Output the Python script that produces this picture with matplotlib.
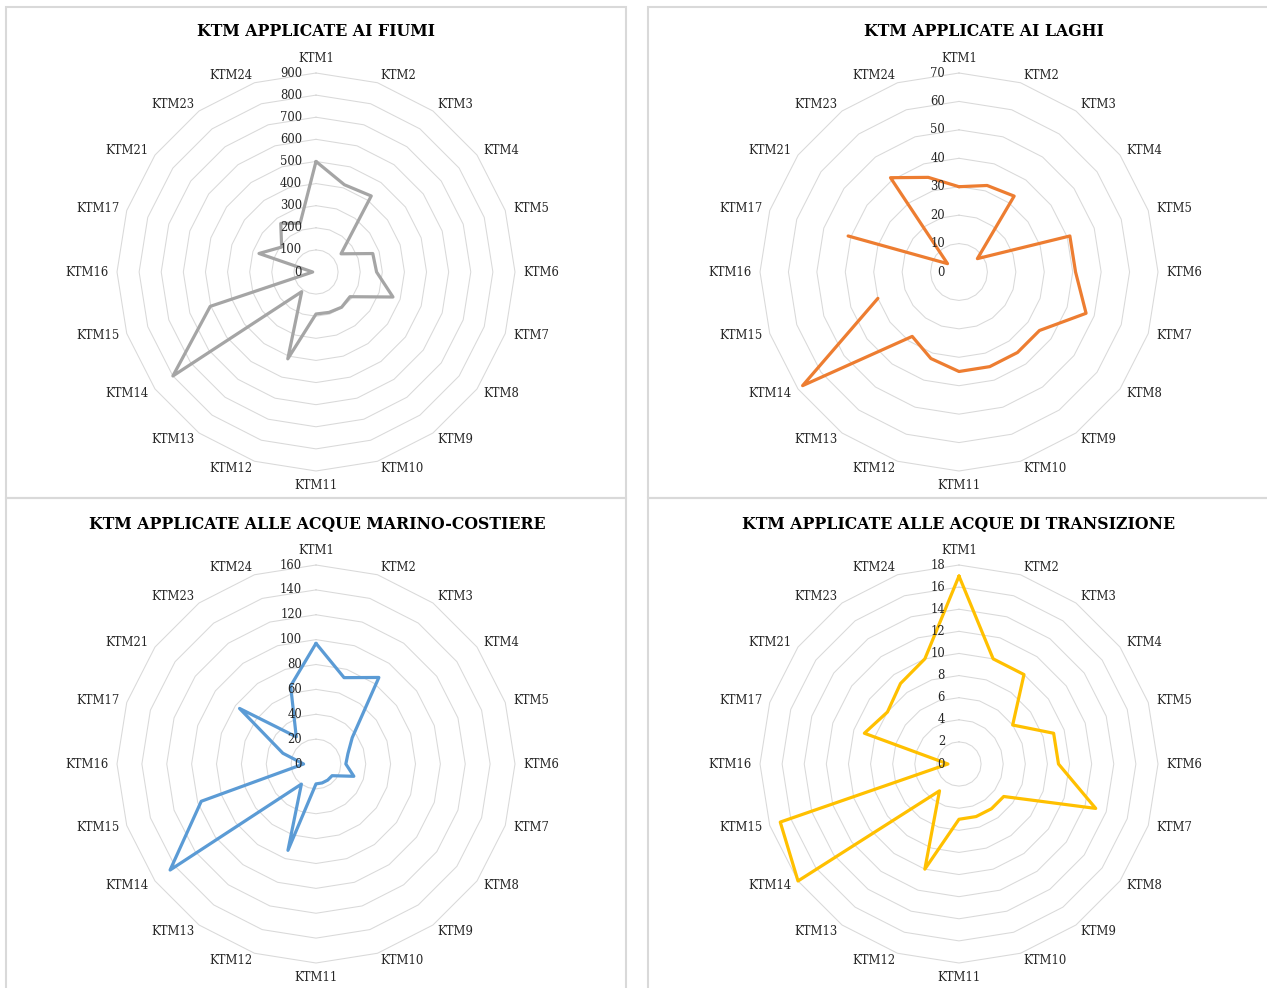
import numpy as np
import matplotlib
matplotlib.use("Agg")
import matplotlib.pyplot as plt
from matplotlib.patches import Rectangle

W, H = 1267, 988

categories = ["KTM1", "KTM2", "KTM3", "KTM4", "KTM5", "KTM6", "KTM7", "KTM8",
              "KTM9", "KTM10", "KTM11", "KTM12", "KTM13", "KTM14", "KTM15",
              "KTM16", "KTM17", "KTM21", "KTM23", "KTM24"]

fiumi = [500, 415, 425, 140, 270, 274, 366, 190, 197, 192, 190, 413, 110, 800,
         503, 15, 271, 192, 271, 232]
laghi = [30, 32, 33, 8, 41, 41, 47, 35, 35, 35, 35, 32, 28, 68, 30, np.nan,
         41, 5, 41, 35]
marino = [97, 73, 86, 36, 27, 24, 32, 16, 16, 16, 16, 73, 20, 145, 97, 10,
          28, 76, 27, 66]
transizione = [17, 10, 10, 6, 9, 9, 13, 5, 5, 5, 5, 10, 3, 18, 17, 1, 9, 8,
               9, 10]

titles = ["KTM APPLICATE AI FIUMI", "KTM APPLICATE AI LAGHI",
          "KTM APPLICATE ALLE ACQUE MARINO-COSTIERE",
          "KTM APPLICATE ALLE ACQUE DI TRANSIZIONE"]

GRID = "#d9d9d9"
TXT = "#262626"
SERIF = "DejaVu Serif"

fig = plt.figure(figsize=(W / 100, H / 100), dpi=100)
fig.patch.set_facecolor("white")


def px_rect(x0, y0, x1, y1):
    # pixel box (top-left origin) -> figure fraction rect
    return [x0 / W, (H - y1) / H, (x1 - x0) / W, (y1 - y0) / H]


# panel frames
for x0, y0, x1, y1 in [(6, 7, 626, 498), (648, 7, 1300, 498),
                       (6, 498, 626, 1010), (648, 498, 1300, 1010)]:
    l, b, w, h = px_rect(x0, y0, x1, y1)
    fig.add_artist(Rectangle((l, b), w, h, transform=fig.transFigure,
                             fill=False, ec=GRID, lw=1.5))


def radar(cx, cy, values, rmax, step, color):
    R = 199
    ax = fig.add_axes(px_rect(cx - R, cy - R, cx + R, cy + R), projection="polar")
    ax.set_theta_offset(np.pi / 2)
    ax.set_theta_direction(-1)
    ax.set_ylim(0, rmax)
    ax.grid(False)
    ax.set_xticks([])
    ax.set_yticks([])
    ax.spines["polar"].set_visible(False)
    ax.patch.set_alpha(0)

    n = len(categories)
    ang = np.arange(n) * 2 * np.pi / n
    angc = np.append(ang, ang[0])
    levels = np.arange(0, rmax + step / 2, step)
    for lev in levels[1:]:
        ax.plot(angc, np.full(n + 1, lev), color=GRID, lw=0.75, zorder=1,
                clip_on=False)

    vals = np.append(values, values[0])
    ax.plot(angc, vals, color=color, lw=2.3, solid_joinstyle="round",
            solid_capstyle="round", zorder=3, clip_on=False)

    for lev in levels:
        ax.annotate(f"{lev:g}", xy=(0, lev), xytext=(-10, 0),
                    textcoords="offset points", ha="right", va="center",
                    fontsize=8.4, family=SERIF, color=TXT, zorder=4,
                    annotation_clip=False)

    gap = 5.8
    for a, c in zip(ang, categories):
        s, co = np.sin(a), np.cos(a)
        if abs(s) < 1e-6:
            ha = "center"
            va = "bottom" if co > 0 else "top"
        else:
            ha = "left" if s > 0 else "right"
            va = "center"
        ax.annotate(c, xy=(a, rmax), xytext=(gap * s, gap * co),
                    textcoords="offset points", ha=ha, va=va, fontsize=8.4,
                    family=SERIF, color=TXT, annotation_clip=False)
    return ax


radar(316, 272, fiumi, 900, 100, "#a5a5a5")
radar(959, 272, laghi, 70, 10, "#ed7d31")
radar(316, 764, marino, 160, 20, "#5b9bd5")
radar(959, 764, transizione, 18, 2, "#ffc000")

# titles, size fitted to the measured width of the first one
title_pos = [(316, 32), (984, 32), (317, 524), (959, 524)]
fig.canvas.draw()
rend = fig.canvas.get_renderer()
probe = fig.text(0, 0, titles[0], fontsize=10, fontweight="bold", family=SERIF)
tw = probe.get_window_extent(rend).width
probe.remove()
tsize = 10 * 238 / tw

for t, (x, y) in zip(titles, title_pos):
    fig.text(x / W, (H - y) / H, t, ha="center", va="center", fontsize=tsize,
             fontweight="bold", family=SERIF, color="#000000")

fig.savefig("out.png", dpi=100, facecolor="white")
